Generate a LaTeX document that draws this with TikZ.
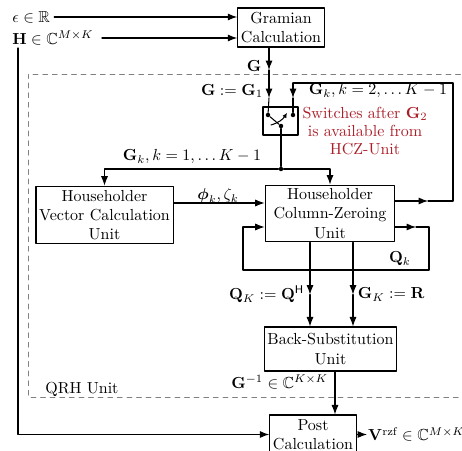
\documentclass[tikz,border=0pt]{standalone}
\usepackage{amsmath,amssymb}
\usetikzlibrary{arrows.meta,calc}
\definecolor{noteRed}{RGB}{170,30,40}

\begin{document}
\begin{tikzpicture}[>=Latex, line cap=round, line join=round, x=0.625pt, y=-0.625pt]

% ---------------- styles ----------------
\tikzset{
  block/.style={draw, line width=0.7pt, align=center, inner sep=2pt},
  wire/.style={line width=0.65pt},
  flow/.style={->, line width=0.65pt},
  unitFrame/.style={draw=gray, dashed, line width=0.6pt},
  label/.style={inner sep=1pt},
  note/.style={text=noteRed, align=center, inner sep=1pt},
  dot/.style={circle, fill, inner sep=0pt, minimum size=2.8pt}
}

\useasboundingbox (0,0) rectangle (462,451);

% ---------------- QRH unit frame ----------------
\draw[unitFrame] (470,74) -- (28,74) -- (28,397) -- (470,397);
\node[anchor=west, inner sep=0pt] (qrh) at (45,389) {QRH Unit};

% ---------------- blocks ----------------
\node[block, minimum width=50pt, minimum height=24.4pt] (gram) at (281,27.5) {Gramian\\Calculation};
\node[block, minimum width=21.9pt, minimum height=17.5pt] (sw) at (280.5,121) {};
\node[block, minimum width=83pt, minimum height=36pt] (hv) at (104.5,215) {Householder\\Vector Calculation\\Unit};
\node[block, minimum width=81pt, minimum height=35.5pt] (hcz) at (330,213.5) {Householder\\Column-Zeroing\\Unit};
\node[block, minimum width=78pt, minimum height=27.5pt] (bs) at (330.5,349) {Back-Substitution\\Unit};
\node[block, minimum width=50pt, minimum height=24.4pt] (post) at (313,434.5) {Post\\Calculation};

% ---------------- inputs ----------------
\node[anchor=west, inner sep=2.5pt] (eps) at (8,17) {$\epsilon \in \mathbb{R}$};
\node[anchor=west, inner sep=2.5pt] (H) at (8,38) {$\mathbf{H} \in \mathbb{C}^{M\times K}$};
\draw[flow] (eps.east) -- (eps.east -| gram.west);
\draw[flow] ($(H.east)+(4,0)$) -- (H.east -| gram.west);

% H bypasses the QRH unit
\coordinate (hDown) at (18,48);
\draw[flow] (hDown) |- (post.west);

% ---------------- switch ----------------
\node[dot] (swL) at (268,115) {};
\node[dot] (swR) at (293,115) {};
\node[dot] (swB) at (281,126) {};
\draw[wire] (swL) -- (swB);
\draw[wire, -{Latex[length=3pt,width=3pt]}] (271,125) to[bend right=20] (287,113);

% G from the Gramian into the switch
\coordinate (gOut) at ($(gram.south)+(-12,0)$);
\coordinate (gMid) at (269,70);
\coordinate (gIn) at (269,98);
\draw[flow] (gOut) -- (gMid);
\draw[flow] (gMid) -- (gIn);
\draw[wire] (gIn) -- (swL);
\node[label] (gLbl) at (254,66) {$\mathbf{G}$};
\node[label] (g1Lbl) at (232,91) {$\mathbf{G} := \mathbf{G}_1$};

% feedback of G_k from the HCZ unit
\coordinate (fbOut) at ($(hcz.east)+(0,-12.5)$);
\coordinate (fbMid) at (428,201);
\coordinate (fbTop) at (293,83);
\coordinate (fbIn) at (293,98);
\draw[flow] (fbOut) -- (fbMid);
\draw[wire] (fbMid) -- (453,201) |- (fbTop);
\draw[flow] (fbTop) -- (fbIn);
\draw[wire] (fbIn) -- (swR);
\node[label] (gk2Lbl) at (378,91) {$\mathbf{G}_k, k=2,\dots K-1$};

\node[note] (swNote) at (365,131) {Switches after $\mathbf{G}_2$\\[-0.8pt]is available from\\[-0.8pt]HCZ-Unit};

% ---------------- distribution of G_k ----------------
\node[dot] (split) at (281,169) {};
\draw[wire] (swB) -- (split);
\draw[flow] (split) -| (hv.north);
\draw[flow] (split) -| (hcz.north);
\node[label] (gk1Lbl) at (192,157) {$\mathbf{G}_k, k=1,\dots K-1$};

% Householder vector
\coordinate (phiOut) at ($(hv.east)+(0,-12)$);
\coordinate (phiIn) at (phiOut -| hcz.west);
\draw[flow] (phiOut) -- (phiIn);
\node[label] (phiLbl) at (218,196) {$\boldsymbol{\phi}_k, \zeta_k$};

% Q_k loop
\coordinate (qOut) at ($(hcz.east)+(0,13.5)$);
\coordinate (qMid) at (416,227);
\coordinate (qIn) at ($(hcz.west)+(0,13.5)$);
\draw[flow] (qOut) -- (qMid);
\draw[flow] (qMid) -- (429,227) |- (243,270) |- (qIn);
\node[label] (qkLbl) at (400,259) {$\mathbf{Q}_k$};

% ---------------- results of the QR decomposition ----------------
\coordinate (qKA) at ($(hcz.south)+(-20,0)$);
\coordinate (qKB) at ($(bs.north)+(-20.5,0)$);
\coordinate (qKM) at ($(qKA)!0.62!(qKB)$);
\draw[flow] (qKA) -- (qKM);
\draw[flow] (qKM) -- (qKB);
\node[label, anchor=east] (qKLbl) at ($(qKM)+(-4,0)$) {$\mathbf{Q}_K := \mathbf{Q}^{\mathsf{H}}$};

\coordinate (rA) at ($(hcz.south)+(23,0)$);
\coordinate (rB) at ($(bs.north)+(22.5,0)$);
\coordinate (rM) at ($(rA)!0.62!(rB)$);
\draw[flow] (rA) -- (rM);
\draw[flow] (rM) -- (rB);
\node[label, anchor=west] (rLbl) at ($(rM)+(3,0)$) {$\mathbf{G}_K := \mathbf{R}$};

% inverse to post calculation
\coordinate (ginvA) at ($(bs.south)+(4.5,0)$);
\draw[flow] (ginvA) -- (ginvA |- post.north);
\node[label, anchor=east] (ginvLbl) at (330,382) {$\mathbf{G}^{-1} \in \mathbb{C}^{K\times K}$};

% ---------------- output ----------------
\node[anchor=west, inner sep=0.5pt] (vOut) at (367,434.5) {$\mathbf{V}^{\mathrm{rzf}}\mkern-1mu \in \mathbb{C}^{M\times K}$};
\draw[flow] (post.east) -- (vOut.west);

\end{tikzpicture}
\end{document}
